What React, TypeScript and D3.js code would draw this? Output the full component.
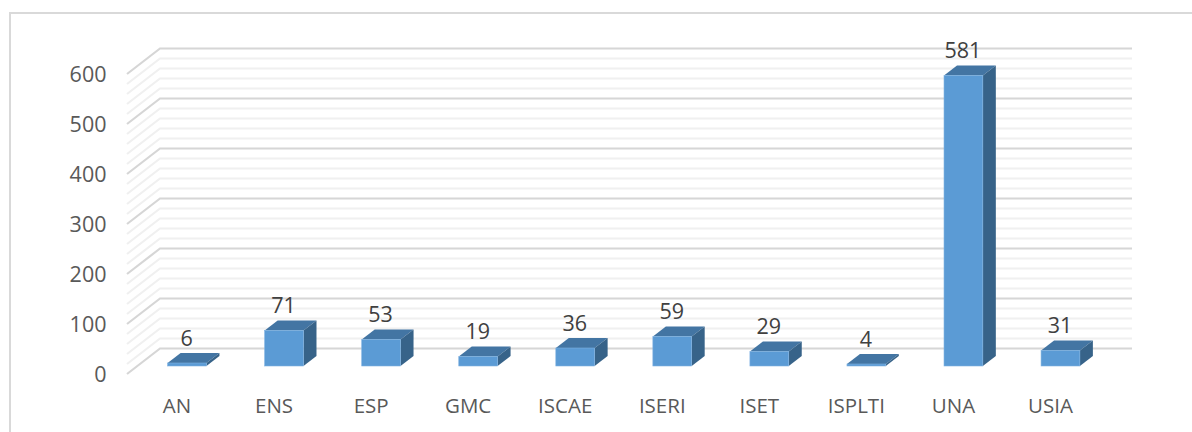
import React from 'react';
import * as d3 from 'd3';

const categories = ['AN', 'ENS', 'ESP', 'GMC', 'ISCAE', 'ISERI', 'ISET', 'ISPLTI', 'UNA', 'USIA'];
const values = [6, 71, 53, 19, 36, 59, 29, 4, 581, 31];
const majorTicks = [0, 100, 200, 300, 400, 500, 600];
const minorTicks = d3.range(0, 601, 20);

const width = 1192;
const height = 432;
const font = '"Open Sans", sans-serif';

// 3d look: the wall sits up and right of the front plane
const wallDx = 33;
const wallDy = -25.5;
const barDx = 13;
const barDy = -10;
const barLift = -8;

export default function App() {
  const y = d3.scaleLinear().domain([0, 600]).range([374, 74]);
  const x = d3.scaleBand<string>().domain(categories).range([138.5, 1109]).paddingInner(0.6).paddingOuter(0.3);
  const xLeft = 127;
  const xRight = 1132;

  return (
    <svg width={width} height={height} style={{ position: 'absolute', left: 0, top: 0, background: '#fff' }}>
      <path d={`M10,432V13H${width}`} fill="none" stroke="#d9d9d9" strokeWidth={2} />

      {minorTicks.map((t) => {
        const major = t % 100 === 0;
        return (
          <path
            key={t}
            d={`M${xLeft},${y(t)}L${xLeft + wallDx},${y(t) + wallDy}H${xRight}`}
            fill="none"
            stroke={major ? '#d6d6d6' : '#f0f0f0'}
            strokeWidth={2.2}
          />
        );
      })}

      {majorTicks.map((t) => (
        <text key={t} x={106.5} y={y(t) + 8} textAnchor="end" fontFamily={font} fontSize={21.5} fill="#595959">
          {t}
        </text>
      ))}

      {categories.map((c, i) => {
        const v = values[i];
        const bx = x(c) as number;
        const bw = x.bandwidth();
        const by0 = y(0) + barLift;
        const by = y(v) + barLift;
        return (
          <g key={c}>
            <path
              d={`M${bx},${by}l${barDx},${barDy}h${bw}l${-barDx},${-barDy}Z`}
              fill="#4375a3"
            />
            <path
              d={`M${bx + bw},${by}l${barDx},${barDy}V${by0 + barDy}l${-barDx},${-barDy}Z`}
              fill="#376389"
            />
            <rect x={bx} y={by} width={bw} height={by0 - by} fill="#5b9bd5" stroke="#7fb2e2" strokeWidth={0.6} />
            <text
              x={bx + bw / 2 - 0.5}
              y={by + barDy - 7.5}
              textAnchor="middle"
              fontFamily={font}
              fontSize={21.5}
              fill="#404040"
            >
              {v}
            </text>
            <text
              x={bx + bw / 2 - 10}
              y={412.5}
              textAnchor="middle"
              fontFamily={font}
              fontSize={20.5}
              fill="#595959"
            >
              {c}
            </text>
          </g>
        );
      })}
    </svg>
  );
}
